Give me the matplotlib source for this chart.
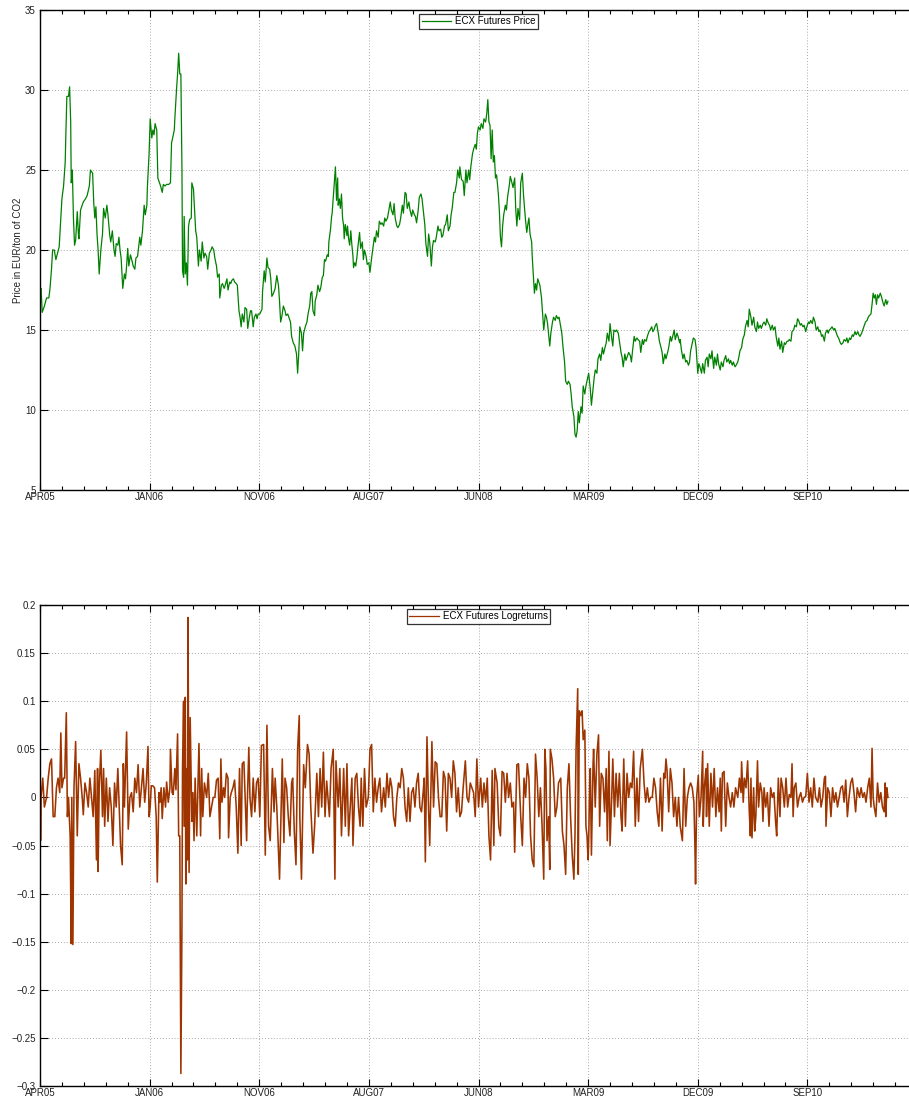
import matplotlib
matplotlib.use('Agg')
import matplotlib.pyplot as plt
import numpy as np
from matplotlib.ticker import MultipleLocator

plt.rcParams['font.family'] = ['Liberation Sans', 'DejaVu Sans']

# x axis = trading day number, labels every 200 days
tick_days = [0, 200, 400, 600, 800, 1000, 1200, 1400]
tick_names = ['APR05', 'JAN06', 'NOV06', 'AUG07', 'JUN08', 'MAR09', 'DEC09', 'SEP10']

# ECX futures price (day, EUR/ton)
price_obs = [
    (0, 17.5), (2, 17.6), (4, 16.1), (8, 16.5), (12, 17.0), (16, 17.0), (18, 17.5), (21, 18.8), (23, 20.0),
    (26, 20.0), (29, 19.4), (32, 19.8), (35, 20.2), (38, 22.0), (40, 23.2), (43, 24.0), (46, 25.5), (47, 27.0),
    (49, 29.6), (52, 29.6), (54, 30.2), (56, 28.0), (57, 24.2), (59, 25.0), (61, 22.0), (63, 20.3), (65, 20.6),
    (68, 22.4), (70, 21.0), (71, 20.7), (74, 22.5), (77, 22.8), (79, 23.0), (83, 23.2), (86, 23.4), (90, 24.0),
    (92, 25.0), (96, 24.8), (98, 23.0), (100, 22.0), (102, 22.7), (104, 21.0), (106, 20.0), (108, 18.5),
    (111, 20.0), (114, 21.0), (116, 22.6), (119, 22.0), (122, 22.8), (124, 22.2), (127, 21.0), (129, 20.5),
    (132, 21.2), (135, 20.0), (137, 19.6), (139, 20.4), (142, 20.3), (144, 20.8), (146, 20.0), (148, 19.5),
    (151, 17.6), (154, 18.5), (156, 18.2), (158, 19.0), (160, 20.1), (162, 19.0), (165, 19.7), (168, 19.3),
    (170, 19.0), (173, 18.8), (175, 19.5), (178, 19.6), (180, 20.2), (182, 20.8), (184, 20.3), (187, 21.2),
    (190, 22.8), (192, 22.2), (195, 22.8), (196, 24.0), (199, 26.0), (201, 28.2), (204, 27.0), (206, 27.5),
    (208, 27.2), (210, 27.9), (213, 27.5), (215, 24.5), (218, 24.2), (220, 24.0), (223, 23.6), (225, 24.1),
    (228, 24.0), (231, 24.1), (235, 24.1), (238, 24.2), (240, 26.7), (242, 27.0), (245, 27.5), (246, 28.2),
    (249, 30.0), (251, 31.0), (253, 32.3), (255, 31.0), (257, 31.0), (259, 25.0), (260, 18.7), (262, 18.3),
    (263, 22.1), (265, 18.5), (267, 19.2), (269, 17.8), (271, 21.5), (273, 21.9), (276, 22.0), (277, 24.2),
    (280, 23.8), (282, 22.5), (284, 21.2), (286, 20.8), (289, 19.0), (291, 20.0), (294, 19.3), (296, 20.5),
    (299, 19.5), (301, 19.8), (304, 19.6), (306, 18.8), (309, 19.8), (312, 20.0), (314, 20.2), (317, 20.0),
    (319, 19.5), (322, 19.0), (324, 18.3), (327, 18.5), (328, 17.0), (331, 17.8), (333, 17.9), (336, 17.6),
    (338, 17.8), (341, 18.2), (343, 17.5), (346, 18.0), (348, 17.9), (350, 18.1), (353, 18.2), (355, 18.0),
    (358, 17.9), (360, 17.8), (363, 16.2), (365, 15.8), (367, 15.2), (369, 16.0), (372, 15.5), (374, 16.4),
    (377, 16.3), (379, 15.1), (382, 15.8), (384, 16.2), (386, 16.2), (389, 15.2), (391, 15.8), (394, 16.0),
    (396, 15.7), (398, 16.0), (401, 16.0), (405, 16.3), (406, 17.4), (409, 18.7), (411, 18.0), (414, 19.5),
    (416, 18.9), (419, 18.8), (421, 18.2), (423, 17.1), (426, 17.3), (429, 17.6), (432, 18.4), (435, 17.8),
    (437, 16.8), (439, 15.5), (441, 15.8), (444, 16.5), (447, 16.2), (449, 15.9), (452, 16.0), (455, 15.7),
    (457, 15.5), (459, 14.6), (462, 14.2), (465, 14.0), (468, 13.5), (470, 12.3), (472, 13.5), (474, 15.2),
    (477, 14.8), (479, 13.7), (481, 14.8), (484, 15.2), (487, 15.5), (489, 16.0), (492, 16.5), (494, 17.3),
    (496, 17.4), (498, 16.2), (501, 15.9), (502, 16.8), (505, 17.2), (507, 17.8), (510, 17.4), (512, 17.6),
    (515, 18.3), (517, 18.4), (519, 19.4), (521, 19.3), (524, 19.7), (526, 19.6), (527, 20.5), (530, 21.3),
    (532, 22.1), (533, 22.3), (535, 23.3), (537, 24.3), (539, 25.2), (541, 23.1), (543, 24.5), (544, 22.8),
    (546, 23.2), (548, 22.6), (550, 23.5), (552, 22.0), (554, 21.5), (555, 20.7), (557, 21.6), (560, 20.9),
    (561, 21.5), (563, 20.7), (565, 20.3), (567, 21.2), (569, 20.3), (571, 19.6), (572, 18.9), (574, 19.2),
    (576, 19.0), (578, 19.5), (580, 20.2), (583, 21.1), (585, 20.1), (588, 20.5), (590, 19.4), (592, 20.0),
    (595, 19.6), (597, 19.1), (600, 19.2), (602, 18.6), (605, 19.5), (607, 20.0), (610, 20.8), (612, 20.5),
    (614, 21.2), (617, 20.8), (619, 21.8), (622, 21.6), (624, 21.7), (627, 21.5), (629, 22.0), (631, 21.8),
    (634, 22.0), (636, 22.4), (639, 23.0), (641, 22.5), (644, 22.2), (646, 22.9), (648, 22.0), (651, 21.5),
    (653, 21.4), (656, 21.6), (658, 22.0), (661, 22.8), (663, 22.3), (666, 23.6), (668, 23.5), (670, 22.6),
    (673, 23.0), (675, 22.5), (678, 22.1), (680, 22.5), (683, 22.2), (685, 22.1), (687, 21.7), (690, 22.5),
    (692, 23.3), (695, 23.5), (697, 23.2), (700, 22.2), (702, 21.6), (704, 20.4), (707, 19.6), (709, 21.0),
    (711, 20.5), (714, 19.0), (716, 20.2), (718, 20.6), (721, 20.5), (723, 20.8), (726, 21.5), (728, 21.2),
    (731, 21.3), (733, 20.8), (735, 20.9), (738, 21.5), (740, 21.6), (743, 22.2), (745, 21.2), (748, 21.5),
    (750, 22.2), (752, 22.6), (755, 23.6), (757, 23.6), (760, 24.2), (762, 25.0), (765, 24.5), (766, 25.2),
    (769, 24.4), (772, 24.3), (774, 23.4), (777, 25.0), (779, 24.2), (782, 25.0), (784, 24.4), (786, 25.2),
    (789, 26.0), (791, 26.3), (794, 26.6), (796, 26.3), (798, 27.3), (800, 27.7), (803, 27.5), (805, 27.9),
    (808, 27.6), (810, 28.2), (813, 28.0), (815, 28.5), (817, 29.4), (819, 28.0), (821, 27.8), (823, 25.7),
    (825, 27.5), (827, 25.5), (829, 25.9), (831, 24.5), (833, 24.7), (836, 23.6), (838, 22.5), (840, 20.8),
    (842, 20.2), (844, 21.5), (846, 22.2), (849, 22.8), (851, 22.5), (853, 23.3), (856, 24.0), (858, 24.6),
    (861, 24.2), (863, 23.9), (866, 24.5), (868, 22.5), (870, 21.5), (872, 22.6), (875, 21.9), (877, 24.2),
    (880, 24.8), (882, 23.5), (884, 22.6), (886, 21.8), (888, 21.1), (890, 21.6), (892, 22.0), (894, 21.0),
    (897, 20.5), (898, 19.6), (900, 18.5), (902, 17.3), (904, 17.9), (906, 17.5), (908, 18.2), (910, 18.0),
    (912, 17.8), (915, 17.0), (917, 16.0), (919, 15.0), (922, 16.0), (924, 15.8), (926, 15.4), (928, 14.7),
    (930, 14.0), (932, 14.8), (935, 15.5), (937, 15.8), (940, 15.6), (942, 15.9), (945, 15.7), (947, 15.8),
    (949, 15.4), (952, 14.8), (954, 14.0), (957, 13.0), (959, 11.8), (962, 11.6), (964, 11.8), (967, 11.6),
    (969, 11.0), (971, 10.2), (974, 9.6), (976, 8.5), (978, 8.3), (980, 8.7), (982, 9.9), (984, 9.2),
    (987, 10.2), (989, 9.8), (991, 11.5), (994, 11.0), (996, 11.5), (999, 12.0), (1001, 12.3), (1004, 11.3),
    (1006, 10.3), (1009, 11.3), (1011, 12.0), (1013, 12.5), (1016, 12.3), (1018, 13.2), (1021, 13.5),
    (1023, 13.1), (1026, 13.9), (1028, 13.5), (1030, 13.8), (1033, 14.2), (1035, 14.8), (1038, 14.3),
    (1040, 15.4), (1043, 14.5), (1045, 14.0), (1047, 15.0), (1050, 14.9), (1052, 15.0), (1055, 14.8),
    (1057, 14.3), (1060, 13.6), (1062, 13.3), (1064, 12.7), (1067, 13.5), (1069, 13.1), (1072, 13.4),
    (1074, 13.6), (1077, 13.4), (1079, 13.0), (1081, 13.7), (1084, 14.6), (1086, 14.3), (1089, 14.5),
    (1091, 14.4), (1094, 14.3), (1096, 13.6), (1099, 14.4), (1101, 14.1), (1103, 14.4), (1106, 14.3),
    (1108, 14.6), (1111, 14.9), (1113, 15.0), (1116, 15.2), (1118, 14.9), (1120, 15.0), (1123, 15.3),
    (1125, 15.4), (1128, 14.8), (1130, 14.3), (1133, 13.9), (1135, 13.6), (1137, 12.9), (1140, 13.5),
    (1142, 13.2), (1145, 13.6), (1147, 13.9), (1150, 14.6), (1152, 14.3), (1155, 14.7), (1157, 15.0),
    (1159, 14.4), (1162, 14.8), (1164, 14.6), (1167, 14.2), (1168, 14.4), (1170, 13.8), (1173, 13.2),
    (1175, 13.5), (1178, 13.0), (1180, 13.1), (1183, 12.8), (1185, 13.0), (1187, 13.7), (1190, 14.2),
    (1192, 14.5), (1195, 14.4), (1197, 13.9), (1200, 12.3), (1202, 12.9), (1204, 12.7), (1207, 12.3),
    (1209, 12.9), (1212, 12.3), (1214, 13.1), (1217, 13.3), (1219, 12.7), (1221, 13.5), (1224, 13.2),
    (1226, 13.7), (1229, 12.6), (1231, 13.3), (1234, 12.8), (1236, 13.5), (1238, 12.9), (1241, 12.5),
    (1243, 13.0), (1246, 12.7), (1248, 13.1), (1251, 13.4), (1253, 13.0), (1256, 13.2), (1258, 12.9),
    (1260, 13.1), (1263, 12.8), (1265, 13.0), (1268, 12.7), (1270, 12.8), (1273, 13.0), (1275, 13.3),
    (1277, 13.7), (1280, 13.9), (1282, 14.4), (1285, 14.7), (1287, 15.2), (1290, 15.6), (1292, 15.2),
    (1294, 16.3), (1297, 15.8), (1299, 15.3), (1302, 15.8), (1304, 15.2), (1307, 14.9), (1309, 15.5),
    (1311, 15.1), (1314, 15.3), (1316, 15.1), (1319, 15.4), (1321, 15.5), (1324, 15.3), (1326, 15.7),
    (1329, 15.4), (1331, 15.3), (1333, 15.0), (1336, 15.3), (1338, 15.0), (1341, 15.2), (1343, 14.6),
    (1346, 14.0), (1348, 14.5), (1350, 13.8), (1353, 14.3), (1355, 13.6), (1358, 14.2), (1360, 14.1),
    (1363, 14.3), (1365, 14.3), (1367, 14.4), (1370, 14.3), (1372, 14.9), (1375, 15.0), (1377, 15.3),
    (1380, 15.2), (1382, 15.7), (1384, 15.6), (1387, 15.3), (1389, 15.4), (1392, 15.2), (1394, 15.3),
    (1397, 14.9), (1399, 15.2), (1402, 15.5), (1404, 15.4), (1406, 15.6), (1409, 15.4), (1411, 15.8),
    (1414, 15.5), (1416, 15.0), (1419, 15.2), (1421, 14.9), (1423, 15.0), (1426, 14.6), (1428, 14.7),
    (1431, 14.3), (1433, 14.8), (1436, 15.0), (1438, 14.8), (1440, 15.0), (1443, 15.1), (1445, 15.2),
    (1448, 15.0), (1450, 15.1), (1453, 14.8), (1455, 14.6), (1457, 14.5), (1460, 14.2), (1462, 14.1),
    (1465, 14.2), (1467, 14.4), (1470, 14.3), (1472, 14.5), (1474, 14.2), (1477, 14.5), (1479, 14.4),
    (1482, 14.7), (1484, 14.6), (1487, 14.9), (1489, 14.7), (1492, 14.9), (1494, 14.7), (1496, 14.6),
    (1499, 14.8), (1501, 15.0), (1504, 15.3), (1506, 15.5), (1509, 15.6), (1511, 15.8), (1513, 15.9),
    (1516, 16.0), (1518, 16.6), (1520, 17.3), (1522, 17.0), (1524, 17.2), (1526, 16.6), (1528, 17.2),
    (1530, 17.0), (1533, 17.3), (1535, 17.1), (1538, 16.7), (1540, 16.5), (1543, 16.9), (1545, 16.6),
    (1547, 16.8),
]

# ECX futures log returns (day, value)
logret_obs = [
    (0, 0.035), (1, -0.045), (2, 0.0), (5, 0.02), (8, -0.01), (12, 0.0), (15, 0.02), (18, 0.035), (21, 0.04),
    (24, -0.02), (27, -0.02), (30, 0.01), (33, 0.02), (36, 0.005), (38, 0.067), (40, 0.01), (43, 0.02),
    (45, 0.02), (48, 0.088), (50, -0.02), (52, 0.0), (55, -0.04), (57, -0.152), (58, 0.0), (60, -0.153),
    (62, 0.01), (65, 0.058), (68, -0.04), (71, 0.035), (74, 0.02), (77, 0.0), (79, -0.018), (82, 0.015),
    (85, 0.005), (88, -0.01), (91, 0.02), (94, 0.0), (97, -0.02), (100, 0.028), (103, -0.065), (105, 0.03),
    (106, -0.077), (108, 0.01), (111, 0.049), (114, -0.02), (116, 0.03), (118, -0.03), (121, 0.02),
    (124, -0.025), (127, 0.01), (130, -0.01), (133, -0.05), (136, 0.015), (139, -0.01), (142, 0.03),
    (145, -0.02), (147, -0.05), (150, -0.07), (152, 0.035), (154, -0.01), (158, 0.068), (161, -0.033),
    (164, 0.0), (167, 0.005), (170, -0.015), (173, 0.02), (176, 0.005), (179, 0.034), (182, -0.01),
    (185, 0.01), (188, 0.03), (191, -0.005), (194, 0.015), (197, 0.053), (199, -0.02), (201, -0.01),
    (203, 0.012), (206, 0.012), (209, 0.01), (212, -0.02), (214, -0.088), (217, 0.005), (219, -0.005),
    (221, 0.01), (223, -0.022), (226, 0.01), (229, -0.01), (231, 0.016), (234, -0.005), (237, 0.01),
    (238, 0.05), (241, 0.005), (243, 0.003), (246, 0.03), (248, 0.008), (251, 0.066), (253, -0.04),
    (255, -0.04), (257, -0.287), (259, -0.132), (260, 0.03), (262, 0.1), (263, -0.03), (265, 0.104),
    (266, -0.09), (268, 0.03), (269, -0.065), (270, 0.187), (272, -0.078), (274, 0.083), (277, -0.025),
    (279, 0.005), (281, -0.045), (283, 0.02), (286, -0.04), (288, 0.01), (290, 0.056), (293, -0.04),
    (295, 0.03), (297, -0.02), (300, 0.015), (304, 0.0), (307, 0.025), (310, -0.02), (313, -0.01),
    (316, 0.0), (319, 0.0), (322, 0.018), (325, 0.02), (328, -0.043), (330, 0.04), (332, -0.005),
    (335, 0.01), (337, 0.0), (340, 0.025), (343, 0.02), (344, -0.042), (347, 0.0), (349, 0.005),
    (352, 0.01), (355, 0.018), (358, -0.01), (361, -0.058), (364, 0.03), (367, -0.05), (369, 0.035),
    (372, 0.037), (374, 0.005), (377, -0.045), (378, -0.01), (381, 0.052), (383, 0.0), (386, -0.02),
    (389, 0.02), (392, -0.015), (395, 0.015), (398, 0.02), (401, -0.02), (404, 0.054), (408, 0.055),
    (411, -0.06), (414, 0.075), (417, -0.03), (420, -0.045), (424, 0.03), (427, -0.015), (429, 0.02),
    (432, -0.01), (435, -0.055), (437, -0.085), (442, 0.04), (445, -0.047), (447, 0.02), (450, 0.01),
    (453, -0.02), (456, -0.04), (459, 0.015), (461, 0.02), (464, -0.036), (467, -0.07), (470, 0.05),
    (473, 0.085), (474, -0.02), (477, -0.085), (481, 0.034), (484, 0.01), (488, 0.055), (491, 0.045),
    (494, -0.01), (498, -0.058), (501, -0.03), (505, 0.025), (508, -0.02), (511, 0.03), (514, -0.01),
    (517, 0.047), (520, -0.02), (523, 0.017), (526, -0.005), (528, -0.02), (531, 0.03), (535, 0.05),
    (538, -0.085), (540, 0.038), (544, -0.01), (547, 0.03), (550, -0.04), (554, 0.03), (557, -0.03),
    (560, 0.035), (563, -0.04), (566, -0.01), (569, 0.02), (571, -0.05), (575, 0.02), (578, 0.025),
    (581, -0.01), (584, -0.03), (586, 0.02), (589, -0.03), (592, 0.03), (595, -0.01), (599, 0.0),
    (602, 0.05), (605, 0.055), (608, -0.015), (611, 0.02), (614, -0.005), (617, 0.01), (620, 0.02),
    (623, -0.015), (627, 0.01), (630, -0.01), (633, 0.025), (636, 0.0), (639, 0.02), (642, 0.01),
    (645, -0.02), (648, -0.03), (651, 0.0), (654, 0.015), (657, 0.01), (660, 0.03), (663, 0.02),
    (666, -0.01), (669, -0.025), (672, 0.01), (675, -0.025), (678, 0.005), (681, 0.01), (684, -0.01),
    (687, 0.015), (690, 0.025), (693, -0.01), (696, -0.015), (699, 0.005), (701, 0.02), (703, -0.067),
    (706, 0.063), (709, -0.015), (711, -0.05), (715, 0.058), (718, -0.01), (721, 0.037), (724, 0.035),
    (727, 0.0), (730, -0.02), (733, -0.02), (736, 0.027), (739, 0.02), (742, -0.035), (745, 0.025),
    (748, 0.02), (751, 0.0), (754, 0.038), (757, 0.025), (760, -0.015), (763, 0.01), (766, -0.02),
    (769, -0.015), (772, 0.01), (776, 0.038), (779, 0.0), (782, -0.005), (785, 0.015), (788, 0.01),
    (791, 0.005), (794, -0.02), (797, 0.04), (800, -0.01), (804, 0.02), (807, -0.01), (810, 0.015),
    (813, -0.005), (816, 0.02), (819, -0.04), (822, -0.065), (825, 0.028), (828, -0.05), (830, 0.03),
    (834, 0.015), (837, -0.03), (840, -0.04), (843, 0.027), (846, 0.025), (849, -0.005), (852, 0.025),
    (855, 0.0), (858, 0.015), (861, -0.01), (864, -0.005), (866, -0.057), (870, 0.034), (873, 0.035),
    (877, -0.02), (880, -0.05), (883, 0.02), (886, 0.0), (889, 0.035), (892, 0.02), (895, -0.04),
    (898, -0.065), (901, -0.072), (904, 0.045), (907, 0.02), (910, -0.02), (913, 0.01), (916, -0.03),
    (919, -0.085), (921, 0.05), (923, 0.03), (925, -0.045), (928, -0.02), (930, -0.075), (931, 0.05),
    (934, 0.04), (937, 0.02), (940, -0.02), (943, -0.01), (946, 0.015), (950, 0.02), (953, -0.035),
    (956, -0.05), (959, -0.08), (962, 0.01), (965, 0.035), (968, -0.02), (971, -0.06), (974, -0.085),
    (976, -0.04), (978, 0.05), (981, 0.113), (982, -0.08), (984, 0.09), (987, 0.085), (989, 0.09),
    (991, 0.06), (994, 0.07), (996, -0.03), (998, -0.04), (1000, -0.065), (1001, -0.045), (1003, 0.02),
    (1004, 0.03), (1006, -0.06), (1009, 0.035), (1010, 0.05), (1013, -0.01), (1016, 0.045), (1019, 0.065),
    (1021, -0.03), (1024, 0.025), (1027, 0.02), (1030, -0.015), (1033, 0.03), (1035, -0.045), (1038, 0.048),
    (1040, -0.05), (1043, 0.0), (1045, 0.04), (1048, -0.02), (1051, 0.025), (1054, -0.01), (1057, 0.025),
    (1060, -0.02), (1062, -0.035), (1065, 0.04), (1068, -0.03), (1071, 0.025), (1074, 0.0), (1077, 0.015),
    (1080, 0.01), (1083, 0.048), (1086, -0.03), (1089, 0.02), (1092, -0.025), (1095, 0.03), (1099, 0.05),
    (1102, 0.015), (1105, -0.005), (1108, 0.01), (1111, -0.005), (1114, 0.0), (1117, 0.0), (1120, 0.02),
    (1123, 0.01), (1126, -0.015), (1129, -0.03), (1132, 0.02), (1135, -0.035), (1138, 0.025), (1140, 0.02),
    (1142, 0.04), (1144, 0.028), (1147, -0.015), (1150, 0.03), (1153, 0.015), (1156, -0.02), (1159, 0.0),
    (1162, -0.03), (1165, 0.0), (1168, -0.03), (1172, -0.045), (1175, 0.03), (1178, -0.03), (1181, 0.0),
    (1184, 0.01), (1187, 0.015), (1190, 0.01), (1193, -0.005), (1195, -0.055), (1196, -0.09), (1198, 0.0),
    (1201, 0.023), (1203, -0.02), (1206, 0.0), (1209, 0.048), (1210, -0.03), (1212, 0.01), (1215, 0.03),
    (1216, -0.02), (1218, 0.035), (1221, -0.03), (1224, 0.025), (1227, -0.01), (1230, 0.03), (1233, -0.02),
    (1236, 0.01), (1239, -0.015), (1241, 0.02), (1243, -0.035), (1245, 0.025), (1248, 0.027), (1251, -0.03),
    (1254, 0.015), (1257, 0.0), (1260, -0.01), (1263, 0.005), (1266, -0.01), (1269, 0.01), (1273, 0.0),
    (1276, 0.02), (1279, 0.005), (1280, 0.037), (1283, -0.005), (1285, 0.02), (1288, 0.01), (1291, 0.038),
    (1294, -0.015), (1296, -0.04), (1297, 0.02), (1299, -0.042), (1302, 0.01), (1304, -0.035), (1306, -0.02),
    (1309, 0.038), (1311, -0.01), (1314, 0.015), (1317, 0.005), (1319, -0.025), (1321, 0.01), (1324, -0.01),
    (1327, 0.005), (1330, -0.03), (1333, 0.01), (1336, 0.0), (1339, 0.005), (1342, -0.025), (1344, -0.04),
    (1347, 0.02), (1350, -0.02), (1352, 0.02), (1355, 0.01), (1358, -0.01), (1361, 0.02), (1364, -0.01),
    (1367, 0.003), (1370, 0.0), (1372, 0.035), (1374, -0.02), (1376, 0.01), (1379, 0.015), (1382, -0.01),
    (1385, 0.0), (1388, 0.005), (1391, -0.005), (1394, 0.0), (1397, 0.001), (1400, 0.025), (1403, -0.005),
    (1406, 0.01), (1409, -0.01), (1412, 0.02), (1415, 0.0), (1419, -0.005), (1422, 0.01), (1425, -0.01),
    (1428, 0.0), (1431, 0.02), (1433, 0.022), (1434, -0.03), (1437, 0.01), (1440, 0.005), (1443, -0.02),
    (1446, 0.01), (1449, -0.005), (1452, 0.005), (1455, -0.01), (1458, 0.0), (1461, 0.01), (1464, 0.012),
    (1467, -0.005), (1470, 0.018), (1473, -0.02), (1476, 0.0), (1479, 0.015), (1482, 0.02), (1485, 0.005),
    (1488, -0.015), (1491, 0.01), (1495, 0.0), (1498, 0.01), (1501, 0.0), (1504, 0.005), (1507, -0.005),
    (1510, 0.01), (1513, 0.02), (1516, -0.01), (1518, 0.051), (1520, 0.0), (1522, -0.01), (1525, -0.02),
    (1528, 0.015), (1531, -0.005), (1534, 0.005), (1537, -0.01), (1540, -0.015), (1542, 0.015),
    (1543, -0.02), (1545, 0.01), (1547, 0.0),
]

price_ticks = [5, 10, 15, 20, 25, 30, 35]
ret_ticks = [-0.3, -0.25, -0.2, -0.15, -0.1, -0.05, 0, 0.05, 0.1, 0.15, 0.2]
ret_tick_names = ['\u22120.3', '\u22120.25', '\u22120.2', '\u22120.15', '\u22120.1', '\u22120.05',
                  '0', '0.05', '0.1', '0.15', '0.2']

price_day, price_eur = zip(*price_obs)
ret_day, ret_val = zip(*logret_obs)

W, H = 909, 1102
fig = plt.figure(figsize=(W / 100, H / 100), dpi=100)
fig.patch.set_facecolor('white')

# axes stretch a little past the right border, as in the original export
ax1 = fig.add_axes([40 / W, (H - 490) / H, 877 / W, 480 / H])
ax2 = fig.add_axes([40 / W, (H - 1086) / H, 877 / W, 481 / H])


def style_axis(ax):
    ax.set_xlim(0, 1600)
    ax.set_xticks(tick_days)
    ax.set_xticklabels(tick_names)
    ax.xaxis.set_minor_locator(MultipleLocator(40))
    ax.tick_params(axis='x', which='major', direction='in', top=True, bottom=True,
                   length=5, width=0.8, pad=1.5, labelsize=7, labelcolor='#222222')
    ax.tick_params(axis='x', which='minor', direction='in', top=True, bottom=True,
                   length=3.2, width=0.8)
    ax.tick_params(axis='y', which='major', direction='in', left=True, right=True,
                   length=6, width=0.8, pad=3, labelsize=7, labelcolor='#222222')
    for s in ax.spines.values():
        s.set_linewidth(1.0)
        s.set_color('black')
    ax.grid(True, which='major', linestyle=(0, (1, 2.5)), linewidth=0.6, color='0.55')
    ax.set_axisbelow(True)


ax1.plot(price_day, price_eur, color='#008000', linewidth=0.9, label='ECX Futures Price')
style_axis(ax1)
ax1.set_ylim(5, 35)
ax1.set_yticks(price_ticks)
ax1.set_ylabel('Price in EUR/ton of CO2', fontsize=7, color='#222222')
ax1.yaxis.set_label_coords(-0.019, 0.5)
leg1 = ax1.legend(loc='upper center', fontsize=7, frameon=True, fancybox=False,
                  borderaxespad=0.4, borderpad=0.25, handlelength=3.0, handletextpad=0.4)
leg1.get_frame().set_edgecolor('black')
leg1.get_frame().set_linewidth(0.9)

ax2.plot(ret_day, ret_val, color='#9e3500', linewidth=1.15, label='ECX Futures Logreturns')
style_axis(ax2)
ax2.set_ylim(-0.3, 0.2)
ax2.set_yticks(ret_ticks)
ax2.set_yticklabels(ret_tick_names)
leg2 = ax2.legend(loc='upper center', fontsize=7, frameon=True, fancybox=False,
                  borderaxespad=0.4, borderpad=0.25, handlelength=3.0, handletextpad=0.4)
leg2.get_frame().set_edgecolor('black')
leg2.get_frame().set_linewidth(0.9)
for h in leg2.get_lines():
    h.set_linewidth(0.9)

fig.savefig('out.png', dpi=100, facecolor='white')
